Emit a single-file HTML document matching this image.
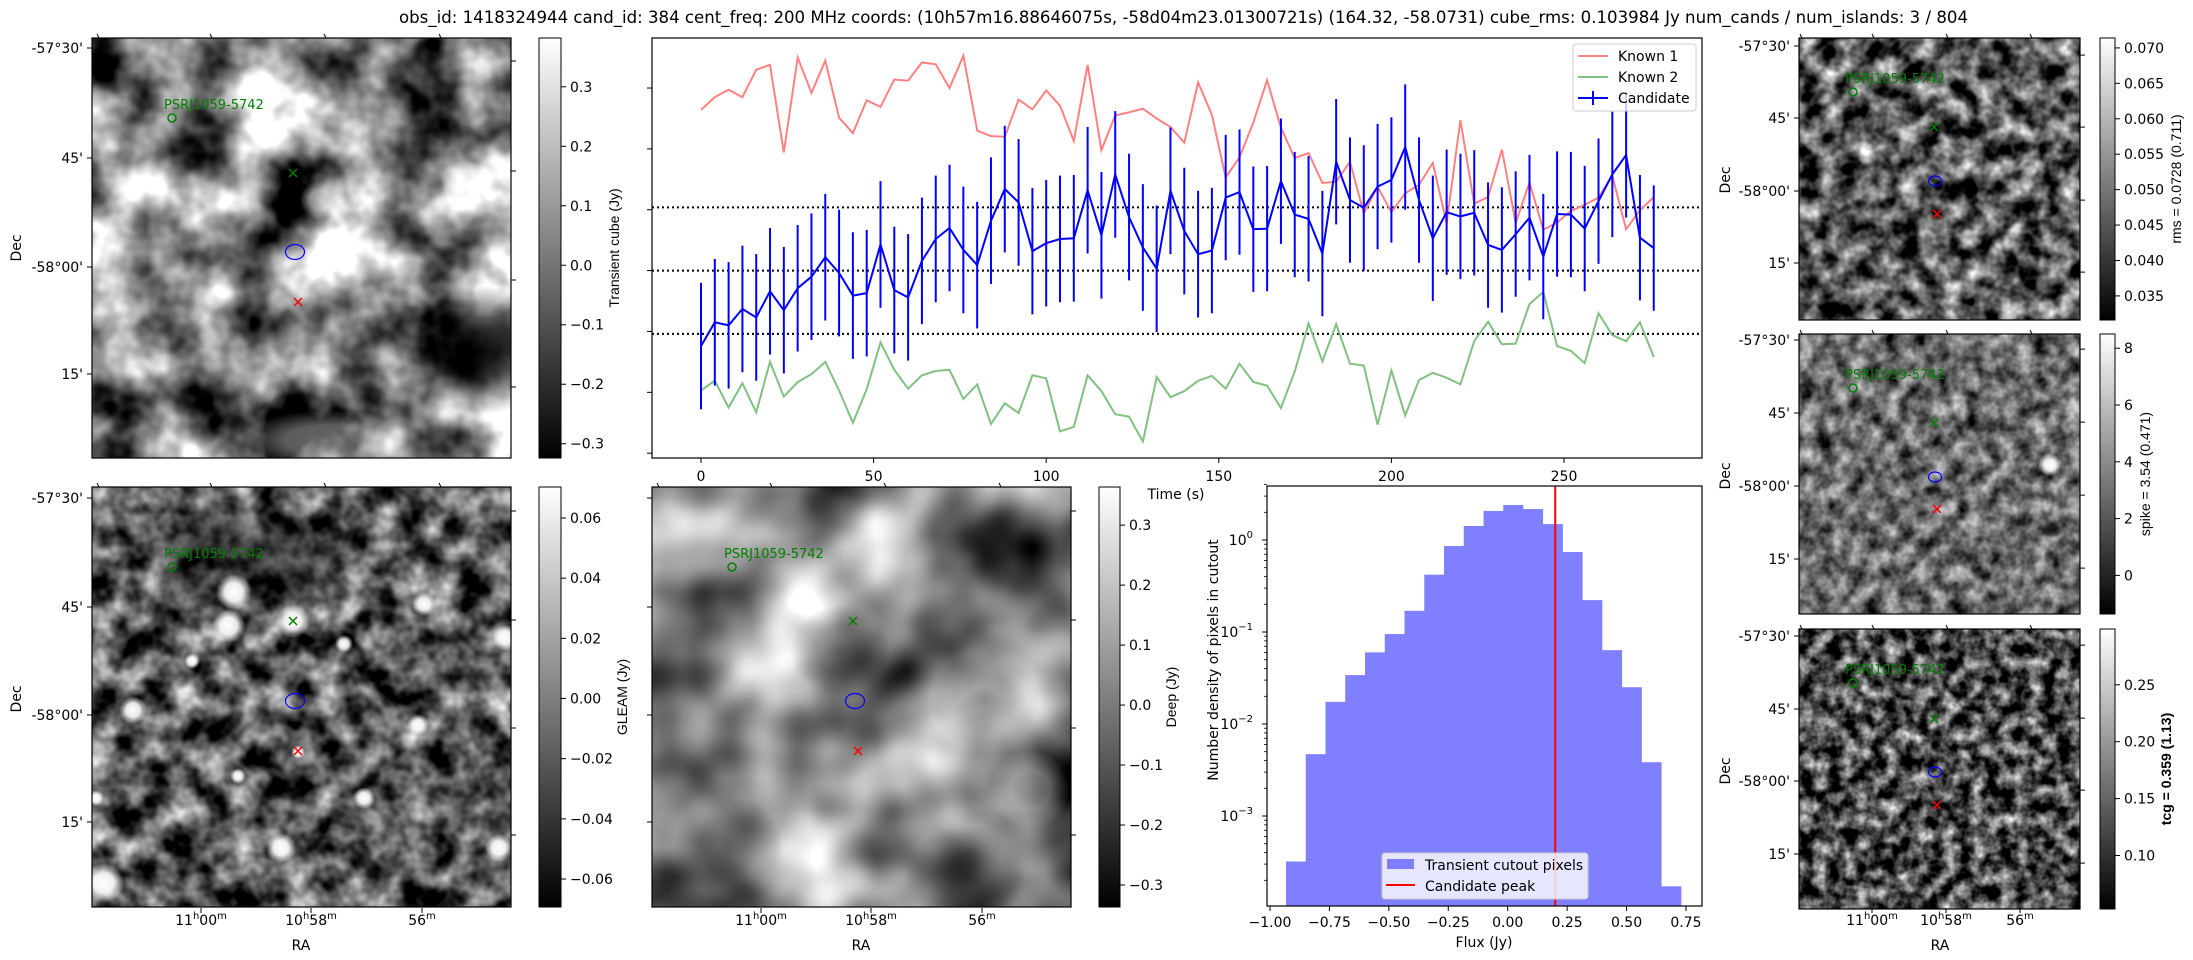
<!DOCTYPE html>
<html><head><meta charset="utf-8"><title>Transient candidate</title>
<style>
html,body{margin:0;padding:0;background:#fff;}
svg{display:block;font-family:"DejaVu Sans","Liberation Sans",sans-serif;}
.t{font-size:14px;fill:#000;}
.n{font-family:"Liberation Sans",sans-serif;font-size:14px;fill:#000;}
filter{color-interpolation-filters:sRGB;}
</style></head>
<body>
<svg id="fig" xmlns="http://www.w3.org/2000/svg" width="2193" height="960" viewBox="0 0 2193 960">
<defs>
<filter id="f1" x="0" y="0" width="1" height="1" color-interpolation-filters="sRGB"><feTurbulence type="fractalNoise" baseFrequency="0.013" numOctaves="4" seed="3"/><feColorMatrix type="matrix" values="1 0 0 0 0 1 0 0 0 0 1 0 0 0 0 0 0 0 0 1"/><feComponentTransfer><feFuncR type="linear" slope="2.4" intercept="-0.7"/><feFuncG type="linear" slope="2.4" intercept="-0.7"/><feFuncB type="linear" slope="2.4" intercept="-0.7"/><feFuncA type="linear" slope="0" intercept="1"/></feComponentTransfer></filter>
<filter id="f2" x="0" y="0" width="1" height="1" color-interpolation-filters="sRGB"><feTurbulence type="fractalNoise" baseFrequency="0.035" numOctaves="3" seed="7"/><feColorMatrix type="matrix" values="1 0 0 0 0 1 0 0 0 0 1 0 0 0 0 0 0 0 0 1"/><feComponentTransfer><feFuncR type="linear" slope="1.6" intercept="-0.45"/><feFuncG type="linear" slope="1.6" intercept="-0.45"/><feFuncB type="linear" slope="1.6" intercept="-0.45"/><feFuncA type="linear" slope="0" intercept="1"/></feComponentTransfer></filter>
<filter id="f3" x="0" y="0" width="1" height="1" color-interpolation-filters="sRGB"><feTurbulence type="fractalNoise" baseFrequency="0.008" numOctaves="3" seed="11"/><feColorMatrix type="matrix" values="1 0 0 0 0 1 0 0 0 0 1 0 0 0 0 0 0 0 0 1"/><feComponentTransfer><feFuncR type="linear" slope="1.7" intercept="-0.3"/><feFuncG type="linear" slope="1.7" intercept="-0.3"/><feFuncB type="linear" slope="1.7" intercept="-0.3"/><feFuncA type="linear" slope="0" intercept="1"/></feComponentTransfer></filter>
<filter id="f4" x="0" y="0" width="1" height="1" color-interpolation-filters="sRGB"><feTurbulence type="fractalNoise" baseFrequency="0.05" numOctaves="3" seed="5"/><feColorMatrix type="matrix" values="1 0 0 0 0 1 0 0 0 0 1 0 0 0 0 0 0 0 0 1"/><feComponentTransfer><feFuncR type="linear" slope="1.7" intercept="-0.5"/><feFuncG type="linear" slope="1.7" intercept="-0.5"/><feFuncB type="linear" slope="1.7" intercept="-0.5"/><feFuncA type="linear" slope="0" intercept="1"/></feComponentTransfer></filter>
<filter id="f5" x="0" y="0" width="1" height="1" color-interpolation-filters="sRGB"><feTurbulence type="fractalNoise" baseFrequency="0.06" numOctaves="3" seed="9"/><feColorMatrix type="matrix" values="1 0 0 0 0 1 0 0 0 0 1 0 0 0 0 0 0 0 0 1"/><feComponentTransfer><feFuncR type="linear" slope="1.2" intercept="-0.18"/><feFuncG type="linear" slope="1.2" intercept="-0.18"/><feFuncB type="linear" slope="1.2" intercept="-0.18"/><feFuncA type="linear" slope="0" intercept="1"/></feComponentTransfer></filter>
<filter id="f6" x="0" y="0" width="1" height="1" color-interpolation-filters="sRGB"><feTurbulence type="fractalNoise" baseFrequency="0.07" numOctaves="3" seed="13"/><feColorMatrix type="matrix" values="1 0 0 0 0 1 0 0 0 0 1 0 0 0 0 0 0 0 0 1"/><feComponentTransfer><feFuncR type="linear" slope="1.7" intercept="-0.55"/><feFuncG type="linear" slope="1.7" intercept="-0.55"/><feFuncB type="linear" slope="1.7" intercept="-0.55"/><feFuncA type="linear" slope="0" intercept="1"/></feComponentTransfer></filter>
<linearGradient id="cb" x1="0" y1="1" x2="0" y2="0"><stop offset="0" stop-color="#000"/><stop offset="1" stop-color="#fff"/></linearGradient>
<radialGradient id="dk"><stop offset="0" stop-color="#000" stop-opacity="0.9"/><stop offset="0.5" stop-color="#000" stop-opacity="0.6"/><stop offset="1" stop-color="#000" stop-opacity="0"/></radialGradient>
<radialGradient id="lt"><stop offset="0" stop-color="#fff" stop-opacity="1"/><stop offset="0.5" stop-color="#fff" stop-opacity="0.9"/><stop offset="1" stop-color="#fff" stop-opacity="0"/></radialGradient>
<clipPath id="c1"><rect x="92" y="38" width="419" height="420"/></clipPath>
<clipPath id="c2"><rect x="92" y="487" width="419" height="420"/></clipPath>
<clipPath id="c3"><rect x="652" y="487" width="419" height="420"/></clipPath>
<clipPath id="c5"><rect x="1799" y="334" width="281" height="280"/></clipPath>
</defs>

<text x="399" y="23" font-size="16.5" textLength="1569" lengthAdjust="spacingAndGlyphs">obs_id: 1418324944 cand_id: 384 cent_freq: 200 MHz coords: (10h57m16.88646075s, -58d04m23.01300721s) (164.32, -58.0731) cube_rms: 0.103984 Jy num_cands / num_islands: 3 / 804</text>

<g clip-path="url(#c1)">
<rect x="92" y="38" width="419" height="420" filter="url(#f1)"/>
<ellipse cx="480" cy="350" rx="75" ry="65" fill="url(#dk)"/>
<ellipse cx="330" cy="440" rx="90" ry="30" fill="url(#lt)" opacity="0.4"/>
<ellipse cx="465" cy="180" rx="25" ry="20" fill="url(#lt)" opacity="0.7"/>
<ellipse cx="320" cy="200" rx="20" ry="20" fill="url(#lt)" opacity="0.6"/>
</g>
<rect x="92" y="38" width="419" height="420" fill="none" stroke="#000" stroke-width="1.2"/>

<g clip-path="url(#c2)">
<rect x="92" y="487" width="419" height="420" filter="url(#f2)"/>
<ellipse cx="250" cy="560" rx="140" ry="70" fill="url(#dk)" opacity="0.5"/>
<g fill="url(#lt)">
<circle cx="234" cy="592" r="18"/><circle cx="229" cy="626" r="17"/><circle cx="293" cy="621" r="17"/>
<circle cx="133" cy="710" r="14"/><circle cx="424" cy="604" r="12"/><circle cx="505" cy="638" r="13"/>
<circle cx="344" cy="644" r="9"/><circle cx="192" cy="661" r="8"/><circle cx="418" cy="725" r="11"/>
<circle cx="364" cy="798" r="11"/><circle cx="281" cy="848" r="15"/><circle cx="499" cy="848" r="14"/>
<circle cx="104" cy="883" r="20"/><circle cx="96" cy="798" r="8"/><circle cx="238" cy="776" r="8"/><circle cx="298" cy="752" r="7"/>
</g>
</g>
<rect x="92" y="487" width="419" height="420" fill="none" stroke="#000" stroke-width="1.2"/>

<g clip-path="url(#c3)">
<rect x="652" y="487" width="419" height="420" filter="url(#f3)"/>
<ellipse cx="840" cy="650" rx="50" ry="45" fill="url(#dk)" opacity="0.45"/>
<ellipse cx="985" cy="700" rx="55" ry="50" fill="url(#dk)" opacity="0.5"/>
<ellipse cx="728" cy="845" rx="55" ry="50" fill="url(#dk)" opacity="0.5"/>
<ellipse cx="965" cy="875" rx="60" ry="50" fill="url(#dk)" opacity="0.5"/>
<ellipse cx="1030" cy="790" rx="40" ry="40" fill="url(#lt)" opacity="0.4"/>
</g>
<rect x="652" y="487" width="419" height="420" fill="none" stroke="#000" stroke-width="1.2"/>

<rect x="1799" y="38" width="281" height="282" filter="url(#f4)"/>
<rect x="1799" y="38" width="281" height="282" fill="none" stroke="#000" stroke-width="1.2"/>
<g clip-path="url(#c5)">
<rect x="1799" y="334" width="281" height="280" filter="url(#f5)"/>
<ellipse cx="2050" cy="465" rx="12" ry="11" fill="url(#lt)"/>
<ellipse cx="2052" cy="530" rx="10" ry="8" fill="url(#dk)"/>
</g>
<rect x="1799" y="334" width="281" height="280" fill="none" stroke="#000" stroke-width="1.2"/>
<rect x="1799" y="629" width="281" height="280" filter="url(#f6)"/>
<rect x="1799" y="629" width="281" height="280" fill="none" stroke="#000" stroke-width="1.2"/>

<rect x="539" y="38" width="22" height="420" fill="url(#cb)" stroke="#000" stroke-width="1"/>
<rect x="539" y="487" width="22" height="420" fill="url(#cb)" stroke="#000" stroke-width="1"/>
<rect x="1099" y="487" width="21" height="420" fill="url(#cb)" stroke="#000" stroke-width="1"/>
<rect x="2100" y="38" width="15" height="282" fill="url(#cb)" stroke="#000" stroke-width="1"/>
<rect x="2100" y="334" width="15" height="280" fill="url(#cb)" stroke="#000" stroke-width="1"/>
<rect x="2100" y="629" width="15" height="280" fill="url(#cb)" stroke="#000" stroke-width="1"/>
<g id="static"></g>

<text class="n" transform="translate(619,248) rotate(-90)" text-anchor="middle">Transient cube (Jy)</text>
<text class="n" transform="translate(627,697) rotate(-90)" text-anchor="middle">GLEAM (Jy)</text>
<text class="n" transform="translate(1176,697) rotate(-90)" text-anchor="middle">Deep (Jy)</text>
<text class="n" transform="translate(2181,179) rotate(-90)" text-anchor="middle">rms = 0.0728 (0.711)</text>
<text class="n" transform="translate(2150,474) rotate(-90)" text-anchor="middle">spike = 3.54 (0.471)</text>
<text class="n" transform="translate(2171,769) rotate(-90)" text-anchor="middle" font-weight="bold">tcg = 0.359 (1.13)</text>

<rect x="652" y="38" width="1050" height="420" fill="none" stroke="#000" stroke-width="1.2"/>
<g id="lc"></g>
<text class="t" x="1176" y="499" text-anchor="middle">Time (s)</text>
<g>
<rect x="1573" y="44" width="123" height="67" rx="3" fill="#fff" fill-opacity="0.8" stroke="#ccc"/>
<line x1="1578" y1="56" x2="1608" y2="56" stroke="#ff8080" stroke-width="2"/><text class="t" x="1618" y="61">Known 1</text>
<line x1="1578" y1="77" x2="1608" y2="77" stroke="#80c080" stroke-width="2"/><text class="t" x="1618" y="82">Known 2</text>
<line x1="1578" y1="98" x2="1608" y2="98" stroke="#0000ff" stroke-width="2"/><line x1="1593" y1="91" x2="1593" y2="105" stroke="#0000ff" stroke-width="2"/><text class="t" x="1618" y="103">Candidate</text>
</g>

<g id="hist"></g>
<rect x="1267" y="486" width="435" height="420" fill="none" stroke="#000" stroke-width="1.2"/>
<text class="t" x="1484" y="947" text-anchor="middle">Flux (Jy)</text>
<text class="t" transform="translate(1218,660) rotate(-90)" text-anchor="middle">Number density of pixels in cutout</text>
<g>
<rect x="1382" y="853" width="206" height="46" rx="3" fill="#fff" fill-opacity="0.8" stroke="#ccc"/>
<rect x="1387" y="859" width="27" height="10" fill="#8080ff"/><text class="t" x="1425" y="870">Transient cutout pixels</text>
<line x1="1386" y1="885" x2="1415" y2="885" stroke="#ff0000" stroke-width="2"/><text class="t" x="1425" y="891">Candidate peak</text>
</g>

<script>
const times = [0,4,8,12,16,20,24,28,32,36,40,44,48,52,56,60,64,68,72,76,80,84,88,92,96,100,104,108,112,116,120,124,128,132,136,140,144,148,152,156,160,164,168,172,176,180,184,188,192,196,200,204,208,212,216,220,224,228,232,236,240,244,248,252,256,260,264,268,272,276];
const known1 = [0.264,0.285,0.297,0.285,0.33,0.338,0.194,0.35,0.292,0.345,0.251,0.226,0.28,0.269,0.314,0.312,0.342,0.339,0.3,0.353,0.23,0.221,0.22,0.281,0.265,0.296,0.271,0.213,0.338,0.198,0.255,0.26,0.266,0.25,0.236,0.21,0.309,0.256,0.153,0.186,0.243,0.313,0.235,0.185,0.193,0.144,0.146,0.179,0.094,0.138,0.096,0.127,0.141,0.177,0.078,0.247,0.110,0.121,0.199,0.078,0.145,0.067,0.079,0.098,0.108,0.120,0.156,0.068,0.099,0.121];
const known2 = [-0.197,-0.181,-0.225,-0.185,-0.233,-0.150,-0.207,-0.183,-0.170,-0.150,-0.197,-0.25,-0.195,-0.118,-0.163,-0.194,-0.172,-0.165,-0.163,-0.211,-0.187,-0.252,-0.218,-0.234,-0.172,-0.177,-0.264,-0.257,-0.172,-0.198,-0.236,-0.240,-0.281,-0.175,-0.208,-0.198,-0.181,-0.173,-0.194,-0.153,-0.183,-0.189,-0.226,-0.166,-0.087,-0.149,-0.088,-0.153,-0.156,-0.253,-0.164,-0.238,-0.180,-0.168,-0.176,-0.187,-0.116,-0.084,-0.121,-0.120,-0.055,-0.035,-0.124,-0.132,-0.152,-0.070,-0.106,-0.116,-0.085,-0.142];
const candidate = [-0.124,-0.085,-0.09,-0.063,-0.077,-0.034,-0.065,-0.029,-0.01,0.022,-0.004,-0.041,-0.037,0.043,-0.032,-0.044,0.016,0.052,0.07,0.034,0.009,0.082,0.134,0.112,0.032,0.045,0.052,0.053,0.132,0.058,0.158,0.088,0.038,0.003,0.131,0.065,0.027,0.033,0.12,0.129,0.068,0.069,0.147,0.092,0.085,0.028,0.179,0.116,0.103,0.138,0.149,0.203,0.116,0.053,0.096,0.089,0.095,0.042,0.034,0.060,0.087,0.023,0.093,0.092,0.069,0.114,0.158,0.19,0.054,0.037];
const candErr = [0.104,0.104,0.104,0.104,0.104,0.104,0.104,0.104,0.104,0.104,0.104,0.104,0.104,0.104,0.104,0.104,0.104,0.104,0.104,0.104,0.104,0.104,0.104,0.104,0.104,0.104,0.104,0.104,0.104,0.104,0.104,0.104,0.104,0.104,0.104,0.104,0.104,0.103,0.103,0.103,0.103,0.103,0.103,0.103,0.103,0.103,0.103,0.103,0.103,0.103,0.103,0.103,0.103,0.103,0.103,0.103,0.103,0.103,0.103,0.103,0.103,0.103,0.103,0.103,0.103,0.103,0.103,0.103,0.103,0.103];
const rmsLevels = [0.103984, 0, -0.103984];
const timeTicks = [0,50,100,150,200,250];
const lcYTicks = [0.3,0.2,0.1,0.0,-0.1,-0.2,-0.3];
const histStart = -0.9327;
const histWidth = 0.0831;
const histDensity = [3.2e-4,4.7e-3,1.74e-2,3.4e-2,6.0e-2,9.5e-2,0.17,0.42,0.86,1.42,2.07,2.40,2.17,1.49,0.74,0.222,0.0635,0.0251,0.00384,0.000172];
const candidatePeak = 0.2;
const fluxTicks = [-1.0,-0.75,-0.5,-0.25,0.0,0.25,0.5,0.75];
const fluxTickLabels = ["\u22121.00","\u22120.75","\u22120.50","\u22120.25","0.00","0.25","0.50","0.75"];
const logTicks = [0,-1,-2,-3];
const cbTransient = [0.3,0.2,0.1,0.0,-0.1,-0.2,-0.3];
const cbGleam = [0.06,0.04,0.02,0.00,-0.02,-0.04,-0.06];
const cbDeep = [0.3,0.2,0.1,0.0,-0.1,-0.2,-0.3];
const cbRms = [0.070,0.065,0.060,0.055,0.050,0.045,0.040,0.035];
const cbSpike = [8,6,4,2,0];
const cbTcg = [0.25,0.20,0.15,0.10];

const NS = "http://www.w3.org/2000/svg";
function mk(tag, attrs, parent){const e=document.createElementNS(NS,tag);for(const k in attrs)e.setAttribute(k,attrs[k]);parent.appendChild(e);return e;}
const lc = document.getElementById('lc');
const xT = t => 701 + t*3.452;
const yV = v => 270.6 - v*608.6;

rmsLevels.forEach(v=>{
  const l = mk('line',{x1:652,x2:1702,y1:yV(v),y2:yV(v),stroke:'#000','stroke-width':2,'stroke-dasharray':'2,3'},lc);
  
  
});
function series(vals,color,name){
  const p = mk('polyline',{points:vals.map((v,i)=>xT(times[i]).toFixed(1)+','+yV(v).toFixed(1)).join(' '),fill:'none',stroke:color,'stroke-width':2},lc);
  
  
}
series(known1,'#ff8080','known-1-line');
series(known2,'#80c080','known-2-line');
candidate.forEach((v,i)=>{
  const e = mk('line',{x1:xT(times[i]),x2:xT(times[i]),y1:yV(v-candErr[i]),y2:yV(v+candErr[i]),stroke:'#0000ff','stroke-width':2},lc);
  
  
});
series(candidate,'#0000ff','candidate-line');
timeTicks.forEach(t=>{
  mk('line',{x1:xT(t),x2:xT(t),y1:458,y2:463,stroke:'#000'},lc);
  const tx = mk('text',{x:xT(t),y:481,'text-anchor':'middle',class:'t'},lc);
  tx.textContent = String(t);
  
  
});
lcYTicks.forEach(v=>{ const y=yV(v); if(y>=38&&y<=458) mk('line',{x1:647,x2:652,y1:y,y2:y,stroke:'#000'},lc); });

const hist = document.getElementById('hist');
const xF = f => 1507.7 + f*237.7;
const yL = lv => 540 - lv*92;
histDensity.forEach((d,i)=>{
  const x0 = xF(histStart + i*histWidth), x1 = xF(histStart + (i+1)*histWidth);
  const yt = yL(Math.log10(d));
  const r = mk('rect',{x:x0,y:yt,width:x1-x0+0.3,height:906-yt,fill:'#8080ff'},hist);
  
  
});
const pk = mk('line',{x1:xF(candidatePeak),x2:xF(candidatePeak),y1:486,y2:906,stroke:'#ff0000','stroke-width':2},hist);


fluxTicks.forEach((f,i)=>{
  mk('line',{x1:xF(f),x2:xF(f),y1:906,y2:911,stroke:'#000'},hist);
  const tx = mk('text',{x:xF(f),y:927,'text-anchor':'middle',class:'t'},hist);
  tx.textContent = fluxTickLabels[i];
  
  
});
logTicks.forEach(p=>{
  const y=yL(p);
  mk('line',{x1:1262,x2:1267,y1:y,y2:y,stroke:'#000'},hist);
  const tx = mk('text',{x:1253,y:y+5,'text-anchor':'end',class:'t'},hist);
  
  
  const a = mk('tspan',{},tx); a.textContent='10';
  const b = mk('tspan',{dy:-7,'font-size':10},tx); b.textContent = p===0?'0':'\u2212'+(-p);
  for(let m=2;m<=9;m++){ const ym=yL(p-1+Math.log10(m)); if(ym>486&&ym<906) mk('line',{x1:1264,x2:1267,y1:ym,y2:ym,stroke:'#000','stroke-width':0.8},hist); }
});
for(let m=2;m<=4;m++){ const ym=yL(Math.log10(m)); mk('line',{x1:1264,x2:1267,y1:ym,y2:ym,stroke:'#000','stroke-width':0.8},hist); }

const st = document.getElementById('static');
function colorbar(ticks,vTop,vBot,x,top,bot,fmt,name){
  ticks.forEach(v=>{
    const y = top + (vTop-v)/(vTop-vBot)*(bot-top);
    mk('line',{x1:x,x2:x+5,y1:y,y2:y,stroke:'#000'},st);
    const tx = mk('text',{x:x+9,y:y+5,class:'t'},st);
    tx.textContent = fmt(v);
    
    
  });
}
const minus = s => s.replace('-','\u2212');
colorbar(cbTransient,0.382,-0.324,561,38,458,v=>minus(v.toFixed(1)),'transient-colorbar-tick');
colorbar(cbGleam,0.0703,-0.0693,561,487,907,v=>minus(v.toFixed(2)),'gleam-colorbar-tick');
colorbar(cbDeep,0.3636,-0.3367,1120,487,907,v=>minus(v.toFixed(1)),'deep-colorbar-tick');
colorbar(cbRms,0.0714,0.0316,2115,38,320,v=>v.toFixed(3),'rms-colorbar-tick');
colorbar(cbSpike,8.5,-1.36,2115,334,614,v=>String(v),'spike-colorbar-tick');
colorbar(cbTcg,0.299,0.053,2115,629,909,v=>v.toFixed(2),'tcg-colorbar-tick');

const decLabels = ["-57\u00b030'","45'","-58\u00b000'","15'"];
function imageAxes(x0,y0,w,decYs,raXs,showRA,showDec,sc){
  decYs.forEach((y,i)=>{
    mk('line',{x1:x0-5,x2:x0,y1:y,y2:y,stroke:'#000'},st);
    mk('line',{x1:x0+w,x2:x0+w+5,y1:y+13*sc,y2:y+13*sc,stroke:'#000'},st);
    if(showDec){const tx=mk('text',{x:x0-9,y:y+5,'text-anchor':'end',class:'t'},st);tx.textContent=decLabels[i];
    
    }
  });
  raXs.forEach(x=>{ mk('line',{x1:x,x2:x+2,y1:y0-4,y2:y0,stroke:'#000'},st); });
}
imageAxes(92,38,419,[48,158,267,374],[97,210,324,439],false,true,1);
imageAxes(92,487,419,[498,607,715,822],[97,210,324,439],true,true,1);
imageAxes(652,487,419,[498,607,715,822],[657,770,884,999],true,false,1);
imageAxes(1799,38,281,[46,118,191,263],[1800,1872,1946,2030],false,true,0.7);
imageAxes(1799,334,281,[340,413,486,559],[1800,1872,1946,2030],false,true,0.7);
imageAxes(1799,629,281,[636,709,781,854],[1800,1872,1946,2030],true,true,0.7);

function raLabels(xs,y){
  const labs=[['11','00'],['10','58'],[null,'56']];
  xs.forEach((x,i)=>{
    mk('line',{x1:x,x2:x,y1:y-17,y2:y-12,stroke:'#000'},st);
    const tx=mk('text',{x:x,y:y,'text-anchor':'middle',class:'t'},st);
    
    
    if(labs[i][0]){const a=mk('tspan',{},tx);a.textContent=labs[i][0];const b=mk('tspan',{dy:-6,'font-size':10},tx);b.textContent='h';const c=mk('tspan',{dy:6},tx);c.textContent=labs[i][1];}
    else{const c=mk('tspan',{},tx);c.textContent=labs[i][1];}
    const d=mk('tspan',{dy:-6,'font-size':10},tx);d.textContent='m';
  });
}
raLabels([201,311,422],925);
raLabels([761,871,982],925);
raLabels([1872,1946,2020],925);
[[301,'ra-axis-title'],[861,'ra-axis-title'],[1940,'ra-axis-title']].forEach(a=>{
  const tx=mk('text',{x:a[0],y:950,'text-anchor':'middle',class:'t'},st);tx.textContent='RA';
  
  
});
[[16,248],[16,699],[1725,180],[1725,476],[1725,771]].forEach(p=>{
  const tx=mk('text',{transform:'translate('+(p[0]+5)+','+p[1]+') rotate(-90)','text-anchor':'middle',class:'t'},st);tx.textContent='Dec';
  
  
});

function markers(px,py,gx,gy,bx,by,rx,ry,ew,eh){
  const lab=mk('text',{x:px-8,y:py-9,fill:'#008000','font-size':13},st);lab.textContent='PSRJ1059-5742';
  
  
  const c=mk('circle',{cx:px,cy:py,r:4,fill:'none',stroke:'#008000','stroke-width':1.5},st);
  
  
  const g=mk('path',{d:`M${gx-4},${gy-4}L${gx+4},${gy+4}M${gx-4},${gy+4}L${gx+4},${gy-4}`,stroke:'#008000','stroke-width':1.5},st);
  
  
  const e=mk('ellipse',{cx:bx,cy:by,rx:ew,ry:eh,fill:'none',stroke:'#0000ff','stroke-width':1.2},st);
  
  
  const r=mk('path',{d:`M${rx-4},${ry-4}L${rx+4},${ry+4}M${rx-4},${ry+4}L${rx+4},${ry-4}`,stroke:'#ff0000','stroke-width':1.5},st);
  
  
}
markers(172,118,293,173,295,252,298,302,9.5,7.5);
markers(172,567,293,621,295,701,298,751,9.5,7.5);
markers(732,567,853,621,855,701,858,751,9.5,7.5);
markers(1853,92,1934,127,1935,181,1937,214,6.5,5);
markers(1853,388,1934,423,1935,477,1937,509,6.5,5);
markers(1853,683,1934,719,1935,772,1937,805,6.5,5);
</script>
</svg>
</body></html>
